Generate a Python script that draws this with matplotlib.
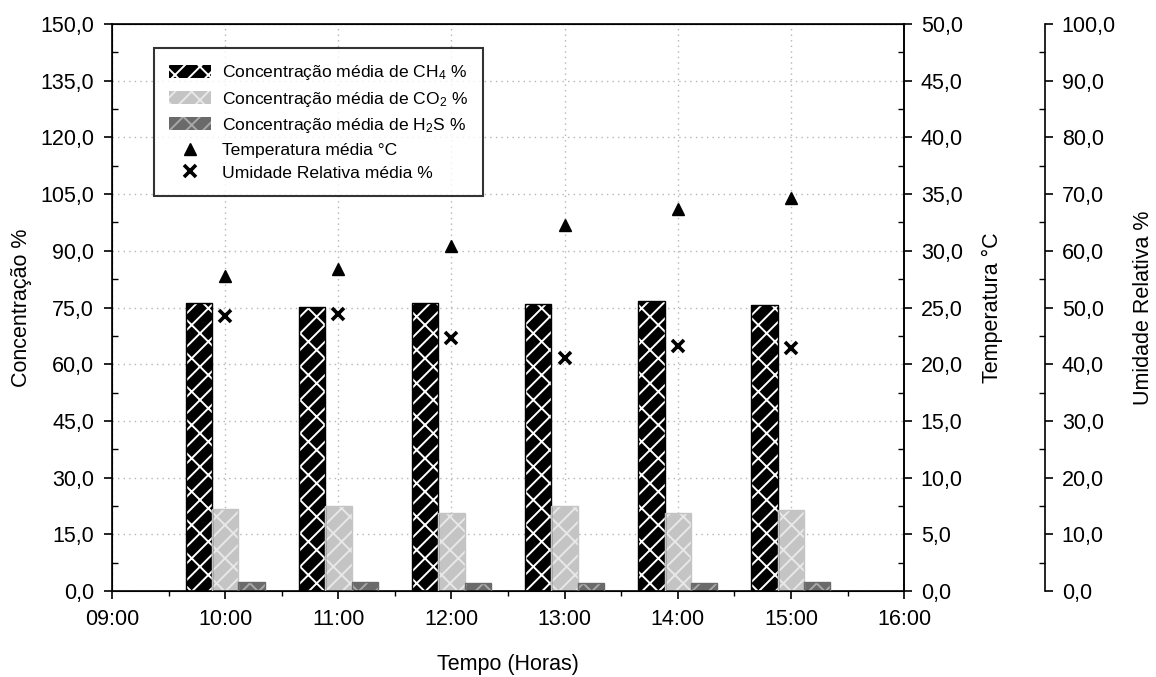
import numpy as np
import matplotlib
matplotlib.use("Agg")
import matplotlib.pyplot as plt
from matplotlib.ticker import MultipleLocator, FuncFormatter
from matplotlib.lines import Line2D
from matplotlib.patches import Patch

plt.rcParams["font.family"] = ["Liberation Sans", "DejaVu Sans"]
plt.rcParams["mathtext.fontset"] = "custom"
plt.rcParams["mathtext.rm"] = "Liberation Sans"
plt.rcParams["mathtext.it"] = "Liberation Sans"
plt.rcParams["hatch.linewidth"] = 1.4

# horas de medição
horas = [10, 11, 12, 13, 14, 15]
hora_labels = ["09:00", "10:00", "11:00", "12:00", "13:00", "14:00", "15:00", "16:00"]

# concentrações médias (%)
ch4 = [76.1, 75.1, 76.1, 76.0, 76.8, 75.7]
co2 = [21.6, 22.6, 20.7, 22.6, 20.7, 21.4]
h2s = [2.3, 2.3, 2.2, 2.2, 2.0, 2.5]

# temperatura média (°C) e umidade relativa média (%)
temperatura = [27.8, 28.4, 30.4, 32.3, 33.7, 34.7]
umidade = [48.5, 48.9, 44.6, 41.1, 43.2, 42.8]

virgula = FuncFormatter(lambda v, p: f"{v:.1f}".replace(".", ","))
FS = 15.5

fig = plt.figure(figsize=(11.56, 6.77), dpi=100)
ax = fig.add_axes([0.0969, 0.127, 0.6852, 0.8375])
ax_t = ax.twinx()
ax_u = ax.twinx()

w = 0.233
x = np.array(horas, dtype=float)
series = [
    (ch4, -w, "black", "white", "Concentração média de CH$_4$ %"),
    (co2, 0.0, "#c4c4c4", "#e8e8e8", "Concentração média de CO$_2$ %"),
    (h2s, w, "#6a6a6a", "#a8a8a8", "Concentração média de H$_2$S %"),
]
handles = []
for vals, off, fc, hc, lab in series:
    ax.bar(x + off, vals, width=w, color=fc, edgecolor=hc, hatch="//\\",
           linewidth=0, zorder=2)
    ax.bar(x + off, vals, width=w, fill=False, edgecolor=fc, linewidth=1.0,
           zorder=3)
    handles.append(Patch(facecolor=fc, edgecolor=hc, hatch="//\\",
                         linewidth=0, label=lab))

ax_t.plot(x, temperatura, linestyle="none", marker="^", markersize=9,
          color="black", zorder=4)
ax_u.plot(x, umidade, linestyle="none", marker="x", markersize=8,
          markeredgewidth=2.6, color="black", zorder=4)
handles.append(Line2D([], [], linestyle="none", marker="^", markersize=9,
                      color="black", label="Temperatura média °C"))
handles.append(Line2D([], [], linestyle="none", marker="x", markersize=8,
                      markeredgewidth=2.6, color="black",
                      label="Umidade Relativa média %"))

# eixo principal
ax.set_xlim(9, 16)
ax.set_ylim(0, 150)
ax.set_xticks(np.arange(9, 17))
ax.set_xticklabels(hora_labels)
ax.xaxis.set_minor_locator(MultipleLocator(0.5))
ax.yaxis.set_major_locator(MultipleLocator(15))
ax.yaxis.set_minor_locator(MultipleLocator(7.5))
ax.yaxis.set_major_formatter(virgula)
ax.grid(True, which="major", color="#b5b5b5", linestyle=(0, (1, 3)),
        linewidth=1.0, zorder=0)
ax.set_axisbelow(True)
ax.tick_params(axis="both", which="major", direction="out", length=6,
               width=1.2, labelsize=FS, pad=7)
ax.tick_params(axis="y", which="minor", direction="in", length=4.5, width=1.0)
ax.tick_params(axis="x", which="minor", direction="out", length=3.5, width=1.0)
ax.tick_params(top=False, right=False, which="both")
for s in ax.spines.values():
    s.set_linewidth(1.2)
ax.set_ylabel("Concentração %", fontsize=FS, labelpad=6)
ax.set_xlabel("Tempo (Horas)", fontsize=FS, labelpad=17)

# eixo da temperatura
ax_t.set_ylim(0, 50)
ax_t.yaxis.set_major_locator(MultipleLocator(5))
ax_t.yaxis.set_minor_locator(MultipleLocator(2.5))
ax_t.yaxis.set_major_formatter(virgula)
ax_t.tick_params(which="major", direction="out", length=6, width=1.2,
                 labelsize=FS, pad=6)
ax_t.tick_params(which="minor", direction="in", length=4.5, width=1.0)
ax_t.spines["right"].set_linewidth(1.2)
ax_t.set_ylabel("Temperatura °C", fontsize=FS, labelpad=14)

# eixo da umidade relativa
ax_u.spines["right"].set_position(("axes", 1.178))
for k in ["left", "top", "bottom"]:
    ax_u.spines[k].set_visible(False)
ax_u.spines["right"].set_linewidth(1.2)
ax_u.set_ylim(0, 100)
ax_u.yaxis.set_major_locator(MultipleLocator(10))
ax_u.yaxis.set_minor_locator(MultipleLocator(5))
ax_u.yaxis.set_major_formatter(virgula)
ax_u.tick_params(which="major", direction="out", length=6, width=1.2,
                 labelsize=FS, pad=6)
ax_u.tick_params(which="minor", direction="in", length=4.5, width=1.0)
ax_u.set_ylabel("Umidade Relativa %", fontsize=FS, labelpad=12)

leg = ax_u.legend(handles=handles, loc="upper left",
                  bbox_to_anchor=(0.053, 0.957), fontsize=12.6,
                  frameon=True, fancybox=False, edgecolor="black",
                  handlelength=2.4, handleheight=0.75, handletextpad=0.65,
                  labelspacing=0.42, borderpad=0.85, borderaxespad=0)
leg.get_frame().set_linewidth(1.5)

fig.savefig("out.png", dpi=100)
